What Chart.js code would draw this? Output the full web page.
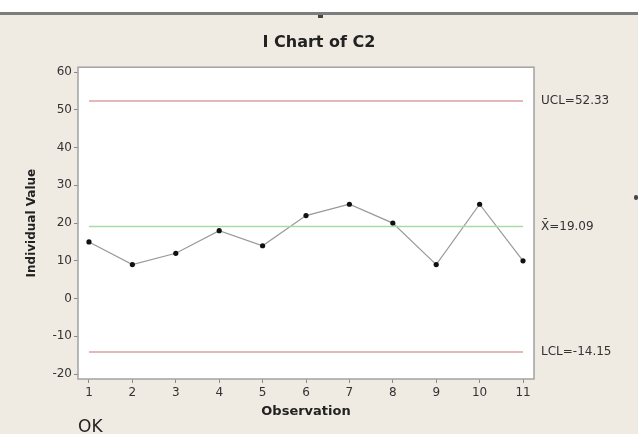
<!DOCTYPE html>
<html>
<head>
<meta charset="utf-8">
<script src="https://cdn.jsdelivr.net/npm/chart.js@4/dist/chart.umd.min.js"></script>
<style>
  html, body { margin: 0; padding: 0; }
  body {
    width: 638px; height: 434px; overflow: hidden; position: relative;
    background: linear-gradient(#ffffff 0, #ffffff 12px, #7d7d7d 12px, #7d7d7d 15px, #efebe2 15px);
    font-family: "DejaVu Sans", sans-serif;
  }
  #chart { position: absolute; left: 0; top: 0; }
  #ok { position: absolute; left: 78px; top: 416px; font-size: 17px; color: #222; }
  .mark { position: absolute; background: #444; }
</style>
</head>
<body>
<canvas id="chart" width="638" height="434"></canvas>
<div id="ok">OK</div>
<div class="mark" style="left:318px;top:15px;width:5px;height:3px;"></div>
<div class="mark" style="left:634px;top:195px;width:4px;height:5px;border-radius:2px;"></div>
<script>
const observations = [1, 2, 3, 4, 5, 6, 7, 8, 9, 10, 11];
const values = [15, 9, 12, 18, 14, 22, 25, 20, 9, 25, 10];
const yTicks = [-20, -10, 0, 10, 20, 30, 40, 50, 60];
const limitValues = [52.33, 19.09, -14.15];
const limitLabels = ["UCL=52.33", "X\u0304=19.09", "LCL=-14.15"];
const limitColors = ["#d9a0a0", "#a6dca6", "#d9a0a0"];

Chart.defaults.font.family = "'DejaVu Sans', sans-serif";
Chart.defaults.color = "#333";

// white plot area with grey frame
const plotFrame = {
  id: "plotFrame",
  beforeDraw(chart) {
    const a = chart.chartArea, ctx = chart.ctx;
    ctx.save();
    ctx.fillStyle = "#ffffff";
    ctx.fillRect(a.left, a.top, a.right - a.left, a.bottom - a.top);
    ctx.restore();
  },
  afterDraw(chart) {
    const a = chart.chartArea, ctx = chart.ctx;
    ctx.save();
    ctx.strokeStyle = "#a3a3a3";
    ctx.lineWidth = 1.5;
    ctx.strokeRect(a.left, a.top, a.right - a.left, a.bottom - a.top);
    ctx.restore();
  }
};

const limitSets = limitValues.map((v, i) => ({
  data: [{x: observations[0], y: v}, {x: observations[observations.length - 1], y: v}],
  borderColor: limitColors[i],
  borderWidth: 1.5,
  pointRadius: 0,
  yAxisID: "y"
}));

const config = {
  type: "line",
  data: {
    datasets: [
      ...limitSets,
      {
        data: observations.map((o, i) => ({x: o, y: values[i]})),
        borderColor: "#999999",
        borderWidth: 1.2,
        pointRadius: 2.6,
        pointBackgroundColor: "#111",
        pointBorderColor: "#111",
        pointBorderWidth: 0,
        yAxisID: "y"
      }
    ]
  },
  options: {
    responsive: false,
    animation: false,
    layout: { padding: 0 },
    plugins: {
      legend: { display: false },
      tooltip: { enabled: false },
      title: {
        display: true,
        text: "I Chart of C2",
        color: "#222",
        font: { size: 16, weight: "bold" },
        padding: { top: 33, bottom: 15 }
      }
    },
    scales: {
      x: {
        type: "linear",
        min: 0.747,
        max: 11.253,
        afterBuildTicks: (s) => { s.ticks = observations.map(v => ({value: v})); },
        afterFit: (s) => { s.height = 55; },
        grid: { drawOnChartArea: false, drawTicks: true, tickLength: 4, color: "#8a8a8a" },
        border: { display: false },
        ticks: { padding: 3, font: { size: 12 }, color: "#333", maxRotation: 0 },
        title: {
          display: true, text: "Observation", color: "#222",
          font: { size: 13, weight: "bold" },
          padding: { top: 0, bottom: 15 }
        }
      },
      y: {
        type: "linear",
        position: "left",
        min: -21.3,
        max: 61.3,
        afterBuildTicks: (s) => { s.ticks = yTicks.map(v => ({value: v})); },
        afterFit: (s) => { s.width = 78; },
        grid: { drawOnChartArea: false, drawTicks: true, tickLength: 4, color: "#8a8a8a" },
        border: { display: false },
        ticks: { padding: 2, font: { size: 12 }, color: "#333" },
        title: {
          display: true, text: "Individual Value", color: "#222",
          font: { size: 12, weight: "bold" },
          padding: { top: 25, bottom: 0 }
        }
      },
      y2: {
        type: "linear",
        position: "right",
        min: -21.3,
        max: 61.3,
        afterBuildTicks: (s) => { s.ticks = limitValues.map(v => ({value: v})); },
        afterFit: (s) => { s.width = 104; },
        grid: { display: false, drawTicks: false },
        border: { display: false },
        ticks: {
          padding: 7, font: { size: 12 }, color: "#333",
          callback: (v, i) => limitLabels[i]
        }
      }
    }
  },
  plugins: [plotFrame]
};

const chart = new Chart(document.getElementById("chart"), config);
</script>
</body>
</html>
